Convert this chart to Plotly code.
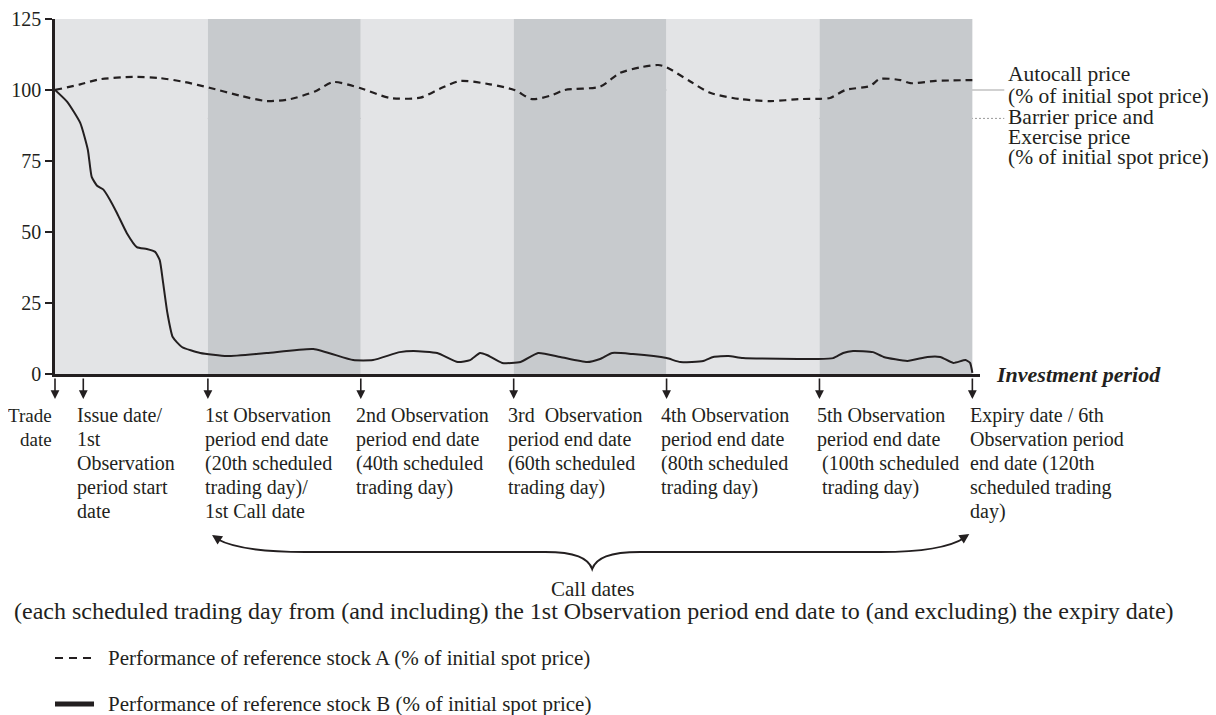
import plotly.graph_objects as go

# ---------------- data ----------------
days_a = [0, 3.3, 5.9, 10.2, 13.7, 17.0, 20.2, 24.2, 27.7, 30.8, 34.0, 36.4, 39.9, 43.8, 47.8,
          50.4, 53.0, 56.9, 60.1, 62.4, 64.8, 66.7, 71.3, 73.9, 76.6, 78.9, 80.0, 83.1, 85.7,
          89.6, 93.6, 97.5, 100.1, 101.4, 103.4, 106.6, 107.9, 110.6, 111.9, 115.2, 120]
perf_a = [100, 102, 103.8, 104.6, 104.2, 102.8, 100.8, 98, 96.1, 96.8, 99.5, 102.8, 100.7, 97.2, 97.3,
          100.5, 103.2, 102, 100, 96.8, 98, 100, 101.2, 106, 108, 108.8, 108, 103, 99,
          96.8, 96.1, 96.8, 96.9, 97.2, 100, 101.4, 103.9, 103.5, 102.4, 103.2, 103.5]

days_b = [0, 1.6, 3.3, 4.3, 4.8, 5.5, 6.3, 7.2, 8.1, 9.4, 10.7, 12.0, 13.1, 13.7, 14.1, 14.7,
          15.4, 16.6, 19.0, 22.5, 27.7, 33.8, 39.0, 41.6, 45.1, 46.9, 50.0, 52.7, 54.3, 55.6,
          56.5, 58.5, 60.9, 63.2, 66.1, 69.6, 71.3, 72.9, 75.6, 80.0, 81.8, 84.8, 86.1, 88.1,
          90.0, 99.7, 101.8, 103.1, 104.4, 107.0, 108.4, 111.5, 114.1, 115.8, 117.5, 119.1, 119.7, 120]
perf_b = [100, 95.8, 88.4, 78.9, 69.4, 66.3, 65, 61.3, 56.7, 49.6, 44.7, 44, 43, 40.1, 33, 21.5,
          13, 9.5, 7.4, 6.3, 7.4, 8.8, 4.9, 4.9, 7.7, 8.1, 7.4, 4.2, 4.9, 7.4,
          6.7, 3.9, 4.2, 7.4, 6, 4.2, 5.3, 7.4, 7, 5.6, 4.2, 4.6, 6, 6.3,
          5.6, 5.3, 5.6, 7.4, 8.1, 7.7, 6, 4.6, 6, 6, 3.9, 4.9, 3.9, 0.4]

y_ticks = [0, 25, 50, 75, 100, 125]
autocall_level = 100
barrier_level = 90
period_bounds = [0, 20, 40, 60, 80, 100, 120]
obs_days = [0, 3.7, 20, 40, 60, 80, 100, 120]
obs_labels = [
    ["Trade", "date"],
    ["Issue date/", "1st", "Observation", "period start", "date"],
    ["1st Observation", "period end date", "(20th scheduled", "trading day)/", "1st Call date"],
    ["2nd Observation", "period end date", "(40th scheduled", "trading day)"],
    ["3rd\u00a0 Observation", "period end date", "(60th scheduled", "trading day)"],
    ["4th Observation", "period end date", "(80th scheduled", "trading day)"],
    ["5th Observation", "period end date", "\u00a0(100th scheduled", "\u00a0trading day)"],
    ["Expiry date / 6th", "Observation period", "end date (120th", "scheduled trading", "day)"],
]
autocall_text = ["Autocall price", "(% of initial spot price)"]
barrier_text = ["Barrier price and", "Exercise price", "(% of initial spot price)"]
call_title = "Call dates"
call_note = ("(each scheduled trading day from (and including) the 1st Observation period end date "
             "to (and excluding) the expiry date)")
legend_a = "Performance of reference stock A (% of initial spot price)"
legend_b = "Performance of reference stock B (% of initial spot price)"
axis_title = "Investment period"

# ---------------- layout geometry ----------------
BODY = 8                      # browser body margin
W, H = 1216 - BODY, 715 - BODY
L, T = 55, 19                 # plot-area origin in page pixels
PW = 924.7
PH = 355
XMAX = 121
INK = "#231f20"
FONT = "Liberation Serif"
LIGHT = "#e3e4e6"
DARK = "#c7cacd"


def px(xp):
    return (xp - L) / PW


def py(yp):
    return (T + PH - yp) / PH


fig = go.Figure()
fig.add_trace(go.Scatter(x=days_a, y=perf_a, mode="lines", name=legend_a,
                         line=dict(color=INK, width=2.2, dash="7px,5px", shape="spline", smoothing=0.7),
                         showlegend=False))
fig.add_trace(go.Scatter(x=days_b, y=perf_b, mode="lines", name=legend_b,
                         line=dict(color=INK, width=2, shape="spline", smoothing=0.5),
                         showlegend=False))

shapes = []
for i in range(len(period_bounds) - 1):
    shapes.append(dict(type="rect", xref="x", yref="y", x0=period_bounds[i], x1=period_bounds[i + 1],
                       y0=0, y1=125, fillcolor=LIGHT if i % 2 == 0 else DARK,
                       line=dict(width=0), layer="below"))
shapes.append(dict(type="line", xref="paper", yref="y", x0=0, x1=px(1004), y0=autocall_level,
                   y1=autocall_level, line=dict(color="#a3a3a3", width=1), layer="below"))
shapes.append(dict(type="line", xref="paper", yref="y", x0=0, x1=px(1004), y0=barrier_level,
                   y1=barrier_level, line=dict(color="#9a9a9a", width=1, dash="2px,2px"), layer="below"))

# brace
pts = "M {a},{b} C {c},{d} {e},{f} {g},{h} L {i},{j} C {k},{l} {m},{n} {o},{p} C {q},{r} {s},{t} {u},{v} L {w},{x} C {y},{z} {aa},{bb} {cc},{dd}"
brace = pts.format(
    a=px(217), b=py(539), c=px(235), d=py(549), e=px(265), f=py(552), g=px(305), h=py(552),
    i=px(545), j=py(552), k=px(575), l=py(552), m=px(588), n=py(558), o=px(592), p=py(569),
    q=px(596), r=py(558), s=px(609), t=py(552), u=px(640), v=py(552),
    w=px(880), x=py(552), y=px(920), z=py(552), aa=px(950), bb=py(547), cc=px(964), dd=py(538))
shapes.append(dict(type="path", xref="paper", yref="paper", path=brace, line=dict(color=INK, width=2)))

# legend samples
shapes.append(dict(type="line", xref="paper", yref="paper", x0=px(55), x1=px(94), y0=py(658), y1=py(658),
                   line=dict(color=INK, width=2, dash="8px,6px")))
shapes.append(dict(type="line", xref="paper", yref="paper", x0=px(55), x1=px(94), y0=py(704), y1=py(704),
                   line=dict(color=INK, width=5)))

ann = []
FS = 20
# arrows below axis
for d in obs_days:
    ann.append(dict(x=d, xref="x", y=py(399), yref="paper", ax=0, ay=-22, text="", showarrow=True,
                    arrowhead=2, arrowsize=1.1, arrowwidth=1.6, arrowcolor=INK))

label_left = [None, 75, 203, 354, 506, 659, 815, 968]
for k, lines in enumerate(obs_labels):
    for j, t in enumerate(lines):
        yy = 415 + 24 * j
        if label_left[k] is None:
            ann.append(dict(x=px(54), xref="paper", y=py(yy), yref="paper", text=t, showarrow=False,
                            xanchor="right", yanchor="middle", font=dict(family=FONT, size=19, color=INK)))
        else:
            ann.append(dict(x=px(label_left[k]), xref="paper", y=py(yy), yref="paper", text=t,
                            showarrow=False, xanchor="left", yanchor="middle",
                            font=dict(family=FONT, size=FS, color=INK)))

# right side labels
for t, yy in zip(autocall_text, [74, 96]):
    ann.append(dict(x=px(1006), xref="paper", y=py(yy), yref="paper", text=t, showarrow=False,
                    xanchor="left", yanchor="middle", font=dict(family=FONT, size=21.5, color=INK)))
for t, yy in zip(barrier_text, [117, 137, 157]):
    ann.append(dict(x=px(1006), xref="paper", y=py(yy), yref="paper", text=t, showarrow=False,
                    xanchor="left", yanchor="middle", font=dict(family=FONT, size=21.5, color=INK)))

ann.append(dict(x=px(994), xref="paper", y=py(374), yref="paper", text="<b><i>" + axis_title + "</i></b>",
                showarrow=False, xanchor="left", yanchor="middle", font=dict(family=FONT, size=22, color=INK)))

# brace arrowheads
ann.append(dict(x=px(212), xref="paper", y=py(535), yref="paper", ax=9, ay=6, text="", showarrow=True,
                arrowhead=2, arrowsize=1.1, arrowwidth=1.8, arrowcolor=INK))
ann.append(dict(x=px(969), xref="paper", y=py(534), yref="paper", ax=-9, ay=6, text="", showarrow=True,
                arrowhead=2, arrowsize=1.1, arrowwidth=1.8, arrowcolor=INK))

ann.append(dict(x=px(592), xref="paper", y=py(589), yref="paper", text=call_title, showarrow=False,
                xanchor="center", yanchor="middle", font=dict(family=FONT, size=21, color=INK)))
ann.append(dict(x=px(594), xref="paper", y=py(611), yref="paper", text=call_note, showarrow=False,
                xanchor="center", yanchor="middle", font=dict(family=FONT, size=24, color=INK)))

ann.append(dict(x=px(106), xref="paper", y=py(658), yref="paper", text=legend_a, showarrow=False,
                xanchor="left", yanchor="middle", font=dict(family=FONT, size=21, color=INK)))
ann.append(dict(x=px(106), xref="paper", y=py(704), yref="paper", text=legend_b, showarrow=False,
                xanchor="left", yanchor="middle", font=dict(family=FONT, size=21, color=INK)))

fig.update_layout(
    width=W, height=H,
    margin=dict(l=L - BODY, r=W - (L - BODY) - PW, t=T - BODY, b=H - (T - BODY) - PH, pad=0,
                autoexpand=False),
    paper_bgcolor="white", plot_bgcolor="white",
    shapes=shapes, annotations=ann, showlegend=False,
    xaxis=dict(range=[0, XMAX], showgrid=False, zeroline=False, showline=True, linecolor=INK, linewidth=2.5,
               showticklabels=False, ticks="", fixedrange=True, automargin=False),
    yaxis=dict(range=[0, 125], tickvals=y_ticks, showgrid=False, zeroline=False, showline=True,
               linecolor=INK, linewidth=2.5, ticks="outside", ticklen=7, tickwidth=2, tickcolor=INK,
               tickfont=dict(family=FONT, size=20, color=INK), fixedrange=True, automargin=False),
)

fig.write_html("out.html")
